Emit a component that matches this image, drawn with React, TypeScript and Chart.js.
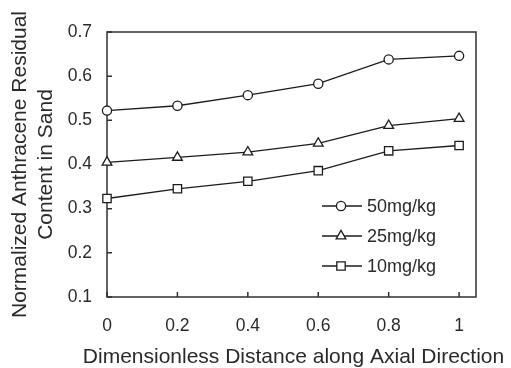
import React, { useEffect, useRef } from 'react';
import { Chart, registerables } from 'chart.js';

Chart.register(...registerables);

const distance = [0, 0.2, 0.4, 0.6, 0.8, 1];
const conc50 = [0.522, 0.533, 0.557, 0.583, 0.638, 0.646];
const conc25 = [0.405, 0.416, 0.428, 0.448, 0.488, 0.504];
const conc10 = [0.323, 0.345, 0.362, 0.386, 0.431, 0.443];
const seriesNames = ['50mg/kg', '25mg/kg', '10mg/kg'];
const markerStyles = ['circle', 'triangle', 'rect'];
const xTickValues = [0, 0.2, 0.4, 0.6, 0.8, 1];
const yTickValues = [0.1, 0.2, 0.3, 0.4, 0.5, 0.6, 0.7];
const xTitle = 'Dimensionless Distance along Axial Direction';
const yTitle = ['Normalized Anthracene Residual', 'Content in Sand'];

const INK = '#1c1c1c';
const TEXT = '#2a2a2a';
const FONT = "'Liberation Sans', Arial, Helvetica, sans-serif";

const fmt = (v: number) => String(Math.round(v * 10) / 10);

function drawMarker(ctx: CanvasRenderingContext2D, style: string, x: number, y: number) {
  ctx.beginPath();
  if (style === 'circle') {
    ctx.arc(x, y, 4.6, 0, Math.PI * 2);
  } else if (style === 'triangle') {
    const r = 5.6;
    ctx.moveTo(x, y - r);
    ctx.lineTo(x + r * Math.cos(Math.PI / 6), y + r / 2);
    ctx.lineTo(x - r * Math.cos(Math.PI / 6), y + r / 2);
    ctx.closePath();
  } else {
    ctx.rect(x - 4.2, y - 4.2, 8.4, 8.4);
  }
  ctx.fillStyle = '#fff';
  ctx.fill();
  ctx.stroke();
}

const framePlugin = {
  id: 'frameTicks',
  beforeDatasetsDraw(chart: any) {
    const { ctx, chartArea: a, scales } = chart;
    ctx.save();
    ctx.strokeStyle = '#303030';
    ctx.lineWidth = 1.5;
    ctx.strokeRect(a.left, a.top, a.right - a.left, a.bottom - a.top);
    ctx.beginPath();
    for (const v of yTickValues) {
      const py = scales.y.getPixelForValue(v);
      ctx.moveTo(a.left, py);
      ctx.lineTo(a.left + 5, py);
    }
    for (const v of xTickValues) {
      const px = scales.x.getPixelForValue(v);
      ctx.moveTo(px, a.bottom);
      ctx.lineTo(px, a.bottom - 5);
    }
    ctx.stroke();
    ctx.restore();
  },
  afterDraw(chart: any) {
    const { ctx, chartArea: a } = chart;
    ctx.save();
    // legend
    ctx.strokeStyle = INK;
    ctx.lineWidth = 1.3;
    ctx.font = `18px ${FONT}`;
    ctx.textBaseline = 'middle';
    ctx.textAlign = 'left';
    chart.data.datasets.forEach((ds: any, i: number) => {
      const y = a.top + 174 + i * 30;
      const x0 = a.right - 154;
      ctx.beginPath();
      ctx.moveTo(x0, y);
      ctx.lineTo(x0 + 40, y);
      ctx.stroke();
      drawMarker(ctx, ds.pointStyle, x0 + 19, y);
      ctx.fillStyle = TEXT;
      ctx.fillText(ds.label, x0 + 45, y + 1);
    });
    // axis titles
    ctx.fillStyle = TEXT;
    ctx.font = `21px ${FONT}`;
    ctx.textAlign = 'center';
    ctx.textBaseline = 'alphabetic';
    ctx.fillText(xTitle, (a.left + a.right) / 2 + 2, 363);
    const cy = (a.top + a.bottom) / 2;
    ctx.textBaseline = 'middle';
    yTitle.forEach((line, i) => {
      ctx.save();
      ctx.translate(20 + i * 26, cy);
      ctx.rotate(-Math.PI / 2);
      ctx.fillText(line, 0, 0);
      ctx.restore();
    });
    ctx.restore();
  },
};

const seriesValues = [conc50, conc25, conc10];

export default function App() {
  const ref = useRef<HTMLCanvasElement | null>(null);
  useEffect(() => {
    if (!ref.current) return;
    const chart = new Chart(ref.current, {
      type: 'line',
      data: {
        datasets: seriesValues.map((vals, i) => ({
          label: seriesNames[i],
          data: distance.map((x, j) => ({ x, y: vals[j] })),
          borderColor: INK,
          borderWidth: 1.3,
          pointStyle: markerStyles[i] as any,
          pointRadius: i === 0 ? 4.6 : i === 1 ? 5.6 : 5.9,
          pointBackgroundColor: '#ffffff',
          pointBorderColor: INK,
          pointBorderWidth: 1.3,
          tension: 0,
          clip: false as any,
        })),
      },
      options: {
        animation: false,
        responsive: true,
        maintainAspectRatio: false,
        layout: { padding: { top: 32, right: 35, left: 0, bottom: 0 } },
        plugins: { legend: { display: false }, tooltip: { enabled: false } },
        scales: {
          x: {
            type: 'linear',
            min: 0,
            max: 1.048,
            afterBuildTicks: (s: any) => {
              s.ticks = xTickValues.map((v) => ({ value: v }));
            },
            afterFit: (s: any) => {
              s.height = 71;
            },
            grid: { display: false, drawTicks: false },
            border: { display: false },
            ticks: {
              padding: 19,
              color: TEXT,
              font: { family: FONT, size: 17.5 },
              maxRotation: 0,
              callback: (v: any) => fmt(Number(v)),
            },
            title: { display: false },
          },
          y: {
            type: 'linear',
            min: 0.1,
            max: 0.7,
            afterBuildTicks: (s: any) => {
              s.ticks = yTickValues.map((v) => ({ value: v }));
            },
            afterFit: (s: any) => {
              s.width = 107;
            },
            grid: { display: false, drawTicks: false },
            border: { display: false },
            ticks: {
              padding: 15,
              color: TEXT,
              font: { family: FONT, size: 17.5 },
              callback: (v: any) => fmt(Number(v)),
            },
            title: { display: false },
          },
        },
      },
      plugins: [framePlugin],
    });
    return () => chart.destroy();
  }, []);
  return (
    <div style={{ position: 'fixed', left: 0, top: 0, width: 511, height: 368, background: '#fff' }}>
      <canvas ref={ref} />
    </div>
  );
}
